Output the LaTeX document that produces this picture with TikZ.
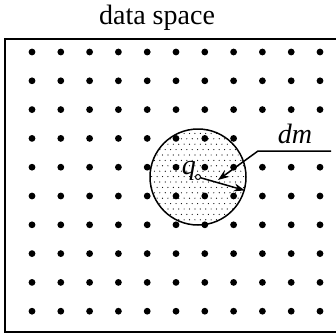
\documentclass[tikz,border=0pt]{standalone}
\usepackage{fontspec}
\setmainfont{Liberation Serif}
\usetikzlibrary{arrows.meta,calc}
\tikzset{
  frame/.style={draw, line width=2pt},
  query/.style={circle, draw, line width=1.5pt, minimum size=96pt, inner sep=0pt},
  centre/.style={circle, draw, fill=white, line width=1pt, minimum size=5pt, inner sep=0pt},
  pointer/.style={-{Stealth[length=11pt,width=8pt]}, line width=1.5pt},
  lbl/.style={font=\fontsize{28}{30}\selectfont, inner sep=0pt}
}

\begin{document}
\begin{tikzpicture}[x=1pt, y=-1pt]

\useasboundingbox (0,0) rectangle (336,334);
\clip (0,0) rectangle (336,334);

% title and frame of the data space
\node[lbl, anchor=base] (title) at (157,25) {data space};
\draw[frame] (5,39) rectangle (345,332);

% query region: stippled disc round q
\coordinate (q) at (198,177);
\begin{scope}
  \clip (q) circle (48pt);
  \foreach \r in {0,...,18}
    \foreach \c in {0,...,18} {
      \pgfmathsetmacro{\px}{149+\c*5.4+mod(\r,2)*2.7}
      \pgfmathsetmacro{\py}{128+\r*5.4}
      \fill (\px,\py) circle (0.6pt);
    }
\end{scope}
\node[query] (probe) at (q) {};

% data points
\foreach \i in {0,...,10}
  \foreach \j in {0,...,9}
    \fill ({32+28.8*\i},{52+28.8*\j}) circle (3.4pt);

% radius of the query
\draw[pointer] (q) -- (probe.-16);
\node[centre] (qdot) at (q) {};
\node[lbl, anchor=base east] (qlabel) at (196,174) {\textit{q}};

% label dm with its leader
\node[lbl, anchor=base, fill=white, inner xsep=30pt, inner ysep=4pt] (dmlabel) at (295,143) {\textit{dm}};
\coordinate (lend) at (331,151);
\coordinate (knee) at (258,151);
\coordinate (tip) at (218,180);
\draw[pointer] (lend) -- (knee) -- (tip);

\end{tikzpicture}
\end{document}
